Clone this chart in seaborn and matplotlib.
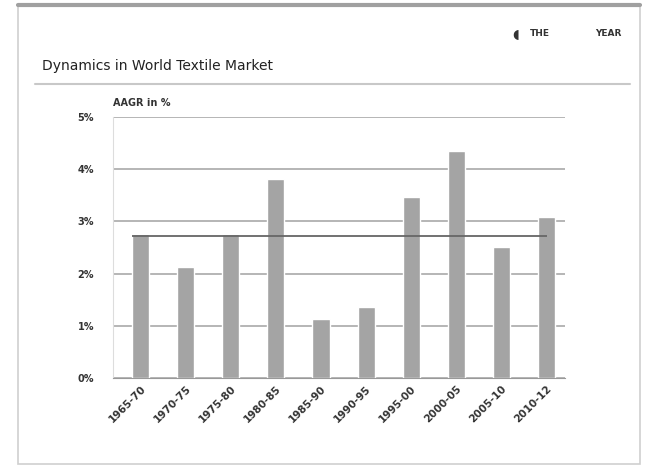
import matplotlib
matplotlib.use("Agg")
import matplotlib.pyplot as plt
import seaborn as sns
import pandas as pd
from matplotlib.patches import Rectangle
from matplotlib.lines import Line2D

# AAGR of world textile market, by period (in %)
periods = ["1965-70", "1970-75", "1975-80", "1980-85", "1985-90",
           "1990-95", "1995-00", "2000-05", "2005-10", "2010-12"]
aagr = [2.75, 2.12, 2.75, 3.81, 1.12, 1.35, 3.46, 4.35, 2.50, 3.08]
y_ticks = [0, 1, 2, 3, 4, 5]
y_labels = ["0%", "1%", "2%", "3%", "4%", "5%"]

df = pd.DataFrame({"period": periods, "aagr": aagr})

sns.set_style("white")
plt.rcParams["font.family"] = ["DejaVu Sans"]

fig = plt.figure(figsize=(6.52, 4.70), dpi=100)
fig.patch.set_facecolor("white")
ax = fig.add_axes([0.174, 0.196, 0.692, 0.555])

sns.barplot(data=df, x="period", y="aagr", color="#a4a4a4", width=0.38,
            saturation=1, ax=ax)

# average line
mean_val = df["aagr"].mean()
ax.hlines(mean_val, -0.19, 9.0, color="#666666", lw=1.3, zorder=4)

ax.set_ylim(0, 5)
ax.set_xlim(-0.6, 9.4)
ax.set_yticks(y_ticks)
ax.set_yticklabels(y_labels, fontsize=7, color="#333333", fontweight="semibold")
ax.yaxis.grid(True, color="#b5b5b5", lw=1.4)
ax.set_axisbelow(True)
ax.set_xlabel("")
ax.set_ylabel("")
ax.tick_params(axis="y", length=0, pad=14)
ax.tick_params(axis="x", length=0, pad=4)
plt.setp(ax.get_xticklabels(), rotation=45, ha="right", rotation_mode="anchor",
         fontsize=7.5, color="#333333", fontweight="semibold")
for s in ["top", "right"]:
    ax.spines[s].set_visible(False)
ax.spines["left"].set_color("#dddddd")
ax.spines["bottom"].set_color("#999999")

ax.text(0.0, 1.035, "AAGR in %", transform=ax.transAxes, fontsize=7,
        color="#333333", ha="left", va="bottom", fontweight="semibold")

# title and frame
fig.text(42 / 652, 1 - 66 / 470, "Dynamics in World Textile Market",
         fontsize=10, color="#222222", ha="left", va="center")
fig.lines.append(Line2D([35 / 652, 630 / 652], [1 - 84 / 470] * 2,
                        transform=fig.transFigure, color="#c8c8c8", lw=1.5))
fig.text(530 / 652, 1 - 33 / 470, "THE", fontsize=6.5, fontweight="bold",
         color="#333333", ha="left", va="center")
fig.text(595 / 652, 1 - 33 / 470, "YEAR", fontsize=6.5, fontweight="bold",
         color="#333333", ha="left", va="center")
fig.text(512 / 652, 1 - 35 / 470, "\u25d6", fontsize=9, color="#333333",
         ha="left", va="center")

fig.patches.append(Rectangle((18 / 652, 6 / 470), 622 / 652, 458 / 470,
                             transform=fig.transFigure, fill=False,
                             edgecolor="#cfcfcf", lw=1.2))
fig.lines.append(Line2D([18 / 652, 640 / 652], [1 - 5 / 470] * 2,
                        transform=fig.transFigure, color="#a0a0a0", lw=3))

fig.savefig("out.png", dpi=100)
